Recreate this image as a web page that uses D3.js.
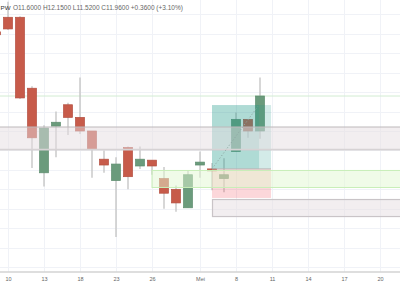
<!DOCTYPE html>
<html><head><meta charset="utf-8">
<script src="https://cdn.jsdelivr.net/npm/d3@7"></script>
<style>html,body{margin:0;padding:0;background:#fff;overflow:hidden}</style>
</head><body><svg id="c" width="400" height="284"></svg>
<script>
// ---- data ----
const barIndex = [-1,0,1,2,3,4,5,6,7,8,9,10,11,12,13,14,15,16,17,18,19,20,21];
const opens  = [12.62,12.77,12.77,12.04,11.17,11.65,11.87,11.74,11.60,11.31,11.09,11.43,11.24,11.30,11.11,11.00,10.81,11.25,11.21,11.11,11.39,11.72,11.60];
const highs  = [12.62,12.93,12.78,12.06,11.66,11.80,11.89,12.15,11.60,11.40,11.33,11.44,11.44,11.30,11.23,11.04,11.19,11.39,11.27,11.32,11.79,11.72,12.15];
const lows   = [12.59,12.64,11.93,11.22,11.03,11.33,11.56,11.57,11.12,11.17,10.51,11.00,11.21,11.15,10.80,10.77,10.81,11.12,10.99,10.97,11.39,11.53,11.52];
const closes = [12.59,12.65,11.94,11.53,11.63,11.69,11.74,11.60,11.41,11.25,11.26,11.13,11.31,11.24,10.96,10.86,11.15,11.28,11.19,11.15,11.72,11.60,11.96];
const tickIndex  = [0,3,6,9,12,16,19,22,25,28,31];
const tickLabels = ["10","13","18","23","26","Mei","8","11","14","17","20"];
const gridPrices = [10.2,10.4,10.6,10.8,11.0,11.2,11.4,11.6,11.8,12.0,12.2,12.4,12.6,12.8];
const resistanceZone = [11.641, 11.408];          // price top, bottom
const supportZone    = [11.194, 11.019, 12];      // top, bottom, start bar
const lowerBox       = [10.895, 10.720, 17];      // top, bottom, start bar
const position       = {entry: 11.21, target: 11.867, stop: 10.911, start: 17, end: 21.92, progress: 20.92, pathEnd: 20.8, pathPrice: 11.85};
const lastClose = 11.96;
const header = "O11.6000 H12.1500 L11.5200 C11.9600 +0.3600 (+3.10%)";
const symbolTail = "PW";

// ---- scales ----
const W = 400, H = 284, plotBottom = 272;
const x = d3.scaleLinear().domain([-2/3, 98/3]).range([0, W]);
const y = d3.scaleLinear().domain([10.1494, 12.9477]).range([plotBottom, 0]);
const svg = d3.select("#c");
const candles = barIndex.map((b,i)=>({b, o:opens[i], h:highs[i], l:lows[i], c:closes[i]}));

// grid
svg.append("g").selectAll("line").data(gridPrices).join("line")
  .attr("x1",0).attr("x2",W).attr("y1",d=>Math.round(y(d))+0.5).attr("y2",d=>Math.round(y(d))+0.5)
  .attr("stroke","#f0f2f7").attr("stroke-width",1);
svg.append("g").selectAll("line").data(tickIndex).join("line")
  .attr("x1",d=>Math.round(x(d))+0.5).attr("x2",d=>Math.round(x(d))+0.5).attr("y1",0).attr("y2",plotBottom)
  .attr("stroke","#f0f2f7").attr("stroke-width",1);

// last price line
svg.append("line").attr("x1",0).attr("x2",W).attr("y1",y(lastClose)).attr("y2",y(lastClose))
  .attr("stroke","#d2ecd2").attr("stroke-width",1);

// candles
const bw = 9;
const cg = svg.append("g");
cg.selectAll("line.w").data(candles).join("line").attr("class","w")
  .attr("x1",d=>x(d.b)).attr("x2",d=>x(d.b)).attr("y1",d=>y(d.h)).attr("y2",d=>y(d.l))
  .attr("stroke","#c2c2c2").attr("stroke-width",1.3);
cg.selectAll("rect").data(candles).join("rect")
  .attr("x",d=>x(d.b)-bw/2).attr("width",bw)
  .attr("y",d=>y(Math.max(d.o,d.c)))
  .attr("height",d=>Math.max(1.5, Math.abs(y(d.o)-y(d.c))))
  .attr("fill",d=>d.c>=d.o?"#6b9b7c":"#c75b4a")
  .attr("stroke",d=>d.c>=d.o?"#5e8d6f":"#b44f40").attr("stroke-width",0.7);

// position tool
const pg = svg.append("g");
pg.append("rect").attr("x",x(position.start)).attr("width",x(position.end)-x(position.start))
  .attr("y",y(position.target)).attr("height",y(position.entry)-y(position.target))
  .attr("fill","rgba(34,155,140,0.2)");
pg.append("rect").attr("x",x(position.start)).attr("width",x(position.progress)-x(position.start))
  .attr("y",y(position.target)).attr("height",y(position.entry)-y(position.target))
  .attr("fill","rgba(34,155,140,0.2)");
pg.append("rect").attr("x",x(position.start)).attr("width",x(position.end)-x(position.start))
  .attr("y",y(position.entry)).attr("height",y(position.stop)-y(position.entry))
  .attr("fill","rgba(242,54,69,0.2)");
pg.append("line").attr("x1",x(position.start)).attr("x2",x(position.end))
  .attr("y1",y(position.entry)).attr("y2",y(position.entry)).attr("stroke","#b5b5b5").attr("stroke-width",1);

// resistance zone (full width)
const zg = svg.append("g");
zg.append("rect").attr("x",0).attr("width",W)
  .attr("y",y(resistanceZone[0])).attr("height",y(resistanceZone[1])-y(resistanceZone[0]))
  .attr("fill","rgba(230,222,226,0.5)");
zg.append("line").attr("x1",0).attr("x2",W).attr("y1",y(resistanceZone[0])).attr("y2",y(resistanceZone[0]))
  .attr("stroke","#bdb8ba").attr("stroke-width",1);
zg.append("line").attr("x1",0).attr("x2",W).attr("y1",y(resistanceZone[1])).attr("y2",y(resistanceZone[1]))
  .attr("stroke","#d6d2d4").attr("stroke-width",1.8);

// lower box
zg.append("rect").attr("x",x(lowerBox[2])+0.5).attr("width",W-x(lowerBox[2])+2)
  .attr("y",y(lowerBox[0])).attr("height",y(lowerBox[1])-y(lowerBox[0]))
  .attr("fill","rgba(230,222,226,0.5)").attr("stroke","#c9c4c7").attr("stroke-width",1.2);

// support zone (green)
zg.append("rect").attr("x",x(supportZone[2])).attr("width",W-x(supportZone[2])+2)
  .attr("y",y(supportZone[0])).attr("height",y(supportZone[1])-y(supportZone[0]))
  .attr("fill","rgba(225,248,210,0.5)").attr("stroke","#c8eeb8").attr("stroke-width",1);

// path dotted
svg.append("line").attr("x1",x(position.start)).attr("y1",y(position.entry))
  .attr("x2",x(position.pathEnd)).attr("y2",y(position.pathPrice))
  .attr("stroke","#8fa8a4").attr("stroke-width",1).attr("stroke-dasharray","1.2,2");

// header
svg.append("text").attr("x",0.5).attr("y",10).attr("font-family","Liberation Sans, Arial, sans-serif")
  .attr("font-size",6.2).attr("fill","#333").text(symbolTail);
svg.append("text").attr("x",13).attr("y",10).attr("font-family","Liberation Sans, Arial, sans-serif")
  .attr("font-size",6.5).attr("fill","#666").text(header);

// x axis
svg.append("rect").attr("x",0).attr("y",plotBottom).attr("width",W).attr("height",H-plotBottom).attr("fill","#fff");
svg.append("line").attr("x1",0).attr("x2",W).attr("y1",plotBottom).attr("y2",plotBottom)
  .attr("stroke","#d3d3d3").attr("stroke-width",1.5);
const ax = svg.append("g").attr("transform",`translate(0,${plotBottom})`)
  .call(d3.axisBottom(x).tickValues(tickIndex).tickFormat((d,i)=>tickLabels[i]).tickSize(0).tickPadding(5));
ax.select(".domain").remove();
ax.selectAll("text").attr("font-family","Liberation Sans, Arial, sans-serif").attr("font-size",5.5).attr("fill","#666");
</script></body></html>
